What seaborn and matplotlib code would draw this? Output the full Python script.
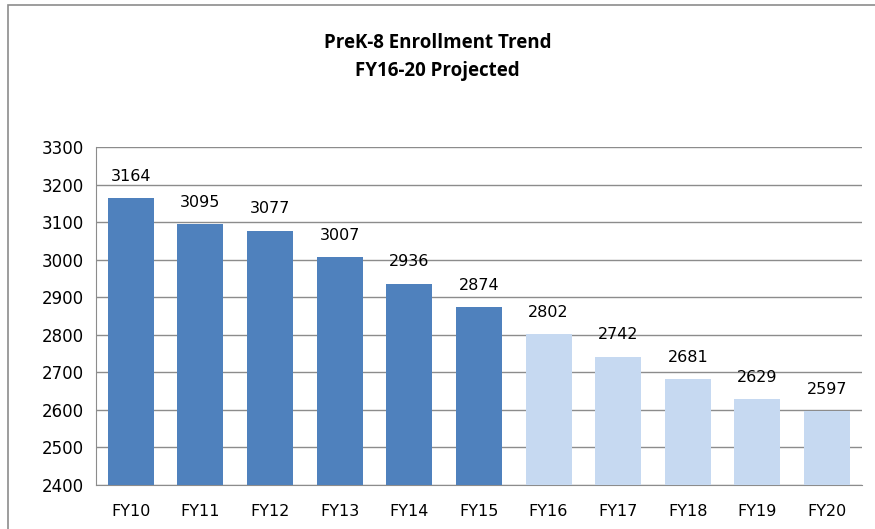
import pandas as pd
import matplotlib.pyplot as plt
import matplotlib.patches as mpatches
import seaborn as sns

# Enrollment data (FY16-20 projected)
years = ["FY10", "FY11", "FY12", "FY13", "FY14", "FY15", "FY16", "FY17", "FY18", "FY19", "FY20"]
enrollment = [3164, 3095, 3077, 3007, 2936, 2874, 2802, 2742, 2681, 2629, 2597]
status = ["Actual"] * 6 + ["Projected"] * 5

df = pd.DataFrame({"Year": years, "Enrollment": enrollment, "Status": status})

sns.set_style("white")
plt.rcParams['font.family'] = ['DejaVu Sans']
plt.rcParams['font.sans-serif'] = ['DejaVu Sans']

fig = plt.figure(figsize=(8.75, 5.29), dpi=100)
ax = fig.add_axes([0.1097, 0.0832, 0.8753, 0.6389])

colors = {"Actual": "#4F81BD", "Projected": "#C6D9F1"}
sns.barplot(data=df, x="Year", y="Enrollment", hue="Status", palette=colors,
            dodge=False, width=0.66, legend=False, saturation=1, linewidth=0,
            ax=ax, zorder=3)

ax.set_ylim(2400, 3300)
ax.set_yticks(range(2400, 3301, 100))
ax.set_xlim(-0.5, len(years) - 0.5)
ax.yaxis.grid(True, color="#8c8c8c", linewidth=1, zorder=0)
ax.set_axisbelow(True)
ax.set_xlabel("")
ax.set_ylabel("")

for side in ["top", "right"]:
    ax.spines[side].set_visible(False)
for side in ["left", "bottom"]:
    ax.spines[side].set_color("#8c8c8c")

# y ticks pointing left, x ticks between categories
ax.tick_params(axis="y", direction="out", length=6, color="#8c8c8c", labelsize=12,
               labelcolor="black", pad=3)
ax.tick_params(axis="x", which="major", length=0, labelsize=11.5, labelcolor="black", pad=14)
ax.set_xticks([i - 0.5 for i in range(len(years) + 1)], minor=True)
ax.tick_params(axis="x", which="minor", direction="out", length=6, color="#8c8c8c")

# value labels above bars
for i, v in enumerate(enrollment):
    ax.text(i, v + 38, str(v), ha="center", va="bottom", fontsize=11.5, color="black")

fig.text(0.5, 0.918, "PreK-8 Enrollment Trend", ha="center", va="center", color="black",
         fontsize=13.5, fontweight="bold", family=["Open Sans", "DejaVu Sans"])
fig.text(0.5, 0.866, "FY16-20 Projected", ha="center", va="center", color="black",
         fontsize=13.5, fontweight="bold", family=["Open Sans", "DejaVu Sans"])

# outer chart border
fig.patches.append(mpatches.Rectangle((8 / 875, -0.01), 1.0, 1 - 5 / 529 + 0.01,
                                      transform=fig.transFigure, fill=False,
                                      edgecolor="#8c8c8c", linewidth=1.2))

plt.savefig("out.png", dpi=100)
